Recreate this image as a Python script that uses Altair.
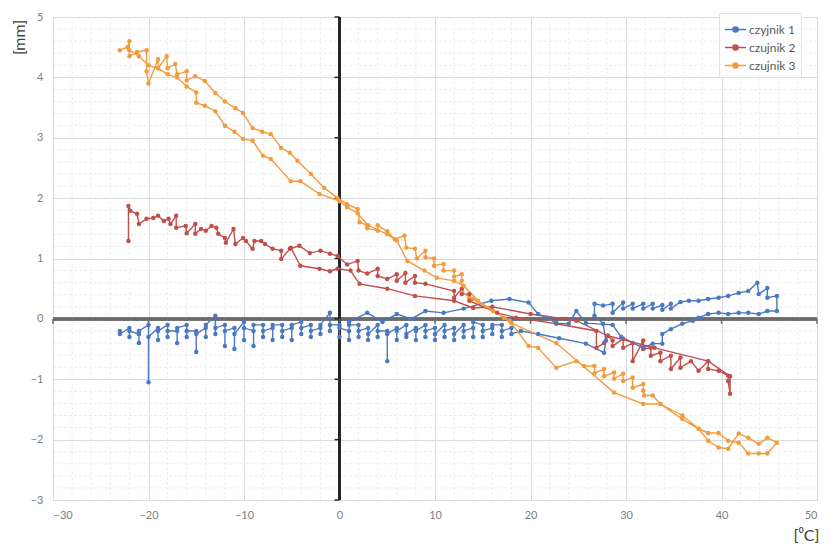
import altair as alt
import pandas as pd

# ---------------- data ----------------
series_names = ["czyjnik 1", "czujnik 2", "czujnik 3"]
series_colors = ["#4A78C2", "#C0504D", "#F39C3E"]

blue_x = [-23, -23, -22, -22, -22, -21, -21, -21, -20, -20, -20, -19, -19, -19, -18, -18, -18, -17, -17, -17,
          -16, -16, -16, -15, -15, -15, -14, -14, -14, -13, -13, -13, -12, -12, -12, -11, -11, -11, -10, -10,
          -10, -9, -9, -9, -8, -8, -8, -7, -7, -7, -6, -6, -6, -5, -5, -5, -4, -4, -4, -3,
          -3, -3, -2, -2, -2, -1, -1, -1, 0, 0, 0, 1, 1, 1, 2, 2, 2, 3, 3, 3,
          4, 4, 4, 5, 5, 5, 6, 6, 6, 7, 7, 7, 8, 8, 8, 9, 9, 9, 10, 10,
          10, 11, 11, 11, 12, 12, 12, 13, 13, 13, 14, 14, 14, 15, 15, 15, 16, 16, 16, 17,
          17, 17, 18, 18, 19,
          20.8, 23, 25.8, 27.7, 27.9, 27.6, 26.7, 26.7, 27.6, 28.6, 28.6, 29.7, 29.7, 30.7, 30.7,
          31.8, 31.8, 32.8, 32.8, 33.8, 33.8, 34.7, 34.7, 35.7, 36.6, 37.6, 38.6, 39.7, 40.7, 41.8, 42.8, 43.75, 43.9, 44.8, 44.8,
          45.8, 45.8, 44.8, 43.9, 42.8, 41.8, 40.7, 39.7, 38.6, 37.6, 37, 35.9, 34.7, 33.8, 33.8, 32.8, 31.8, 29.5, 28.6, 25.8,
          24.8, 24, 22.7, 21.7, 20.8, 19.8, 17.8, 15.9, 13, 10.9, 9, 7.5, 6, 4.5, 2.9, 1]
blue_y = [-0.2, -0.25, -0.15, -0.3, -0.2, -0.25, -0.4, -0.2, -0.1, -1.05, -0.3, -0.15, -0.35, -0.2, -0.1, -0.3, -0.2, -0.2, -0.4, -0.15,
          -0.1, -0.3, -0.2, -0.2, -0.55, -0.25, -0.15, -0.3, -0.1, 0.05, -0.25, -0.15, -0.1, -0.45, -0.2, -0.15, -0.5, -0.25, -0.05, -0.35,
          -0.15, -0.2, -0.45, -0.1, -0.1, -0.3, -0.2, -0.15, -0.35, -0.1, -0.1, -0.3, -0.2, -0.15, -0.35, -0.1, -0.05, -0.25, -0.15, -0.1,
          -0.3, -0.2, -0.15, -0.25, -0.1, 0.1, -0.2, -0.1, -0.1, -0.3, -0.15, -0.2, -0.35, -0.1, -0.1, -0.3, -0.2, -0.15, -0.35, -0.25,
          -0.1, -0.3, -0.2, -0.2, -0.7, -0.25, -0.15, -0.35, -0.2, -0.1, -0.3, -0.25, -0.15, -0.35, -0.2, -0.1, -0.3, -0.2, -0.15, -0.35,
          -0.25, -0.1, -0.3, -0.2, -0.15, -0.35, -0.25, -0.1, -0.3, -0.2, -0.15, -0.3, -0.05, -0.1, -0.3, -0.2, -0.15, -0.25, -0.1, -0.1,
          -0.3, -0.2, -0.15, -0.25, -0.2,
          -0.25, -0.32, -0.41, -0.56, -0.36, -0.08, 0.05, 0.25, 0.22, 0.25, 0.1, 0.27, 0.17, 0.25, 0.17,
          0.25, 0.17, 0.25, 0.17, 0.23, 0.15, 0.25, 0.17, 0.28, 0.3, 0.3, 0.33, 0.35, 0.38, 0.43, 0.46, 0.6, 0.41, 0.51, 0.35,
          0.38, 0.13, 0.13, 0.08, 0.1, 0.1, 0.08, 0.1, 0.08, 0.02, -0.03, -0.08, -0.17, -0.25, -0.41, -0.41, -0.48, -0.3, -0.1, -0.07,
          0.13, -0.08, -0.07, 0.02, 0.08, 0.27, 0.33, 0.3, 0.17, 0.1, 0.13, 0.0, 0.08, -0.05, 0.1, -0.05]

red_x = [-22.1, -22.1, -21.9, -21.2, -21, -20.2, -19.5, -19, -18.4, -17.9, -17.7, -17.1, -17.1, -16.1, -16, -15.1, -15.1, -14.5, -14, -13.4,
         -12.9, -12.7, -12, -11.9, -11.1, -10.9, -10.1, -9.8, -9.1, -8.9, -8.2, -7.8, -7, -6.1, -6.1, -5.2, -4.2, -3.1, -2, -1,
         -0.2, 0.8, 1.9, 2, 2.9, 4, 4, 5, 6, 6, 6.9, 6.9, 7.9, 7.9, 9, 12, 12, 12.8, 12.8, 13.6,
         13.6, 16.5, 18.5, 22.7, 26.9, 26.9, 27.7, 28.1, 28.6, 28.6, 29.7, 29.7, 30.7, 30.7, 31.8, 31.8, 32.6, 32.6, 33.6, 33.6,
         34.7, 34.7, 35.7, 35.7, 36.8, 37.6, 38.6, 38.6, 39.7, 40.7, 40.7, 40.9, 40.9, 38.6, 33, 28.1, 24.8, 20, 16, 14,
         12, 7.9, 5, 2.1, 1.15, -0.2, -1, -2.1, -4.1, -5.1]
red_y = [1.29, 1.87, 1.79, 1.74, 1.57, 1.66, 1.67, 1.71, 1.62, 1.66, 1.57, 1.71, 1.51, 1.54, 1.42, 1.57, 1.41, 1.49, 1.46, 1.54,
         1.51, 1.41, 1.34, 1.26, 1.49, 1.24, 1.34, 1.29, 1.16, 1.29, 1.29, 1.24, 1.16, 1.13, 0.99, 1.16, 1.21, 1.09, 1.13, 1.08,
         1.04, 0.9, 0.96, 0.8, 0.75, 0.83, 0.71, 0.66, 0.74, 0.63, 0.76, 0.6, 0.71, 0.6, 0.58, 0.46, 0.35, 0.5, 0.41, 0.41,
         0.3, 0.1, 0.02, -0.08, -0.2, -0.48, -0.4, -0.28, -0.36, -0.45, -0.33, -0.48, -0.4, -0.7, -0.36, -0.5, -0.48, -0.61, -0.56, -0.7,
         -0.61, -0.83, -0.64, -0.81, -0.7, -0.86, -0.7, -0.83, -0.86, -0.94, -1.03, -1.24, -0.95, -0.7, -0.48, -0.28, -0.03, 0.08, 0.2, 0.18,
         0.3, 0.38, 0.5, 0.58, 0.8, 0.83, 0.79, 0.83, 0.88, 1.18]

orange_x = [-23, -22.2, -22, -22, -21.2, -20.2, -20.2, -20, -19, -19, -18.1, -18, -17.2, -17, -16, -16, -15.1, -14.1, -13, -12,
            -10.9, -10.1, -9.1, -8.1, -7.2, -6.1, -5.2, -4.4, -3, -1.6, -0.2, 0.8, 1.9, 2.1, 2.9, 2.9, 4, 4, 5, 5.8,
            6.8, 7, 7.9, 8.1, 9, 9, 9.9, 9.9, 10.9, 10.9, 12, 12, 12.8, 12.8, 12.8, 13.6, 14, 16.1, 17.8, 19.8,
            20.8, 22.7, 24.8, 25.6, 26.7, 26.7, 27.7, 27.7, 28.75, 28.75, 29.7, 29.7, 30.7, 30.7, 31.8, 31.8, 31.9, 32.8, 33.6, 35.9,
            37.6, 38.6, 39.7, 40.7, 41.8, 42.8, 43.9, 44.8, 45.8, 44.8, 43.9, 42.8, 41.8, 40.7, 39.7, 38.6, 37.6, 35.9, 33.6, 31.8,
            28.75, 22.7, 18, 17.2, 14.5, 13, 12, 10.2, 8.9, 7.1, 6, 5, 3, 1.9, 0.8, 0, -2.1, -4.1, -5.1, -7.2,
            -8, -9.1, -10.1, -11, -12, -13, -14.1, -15, -15, -16, -17, -18, -19, -20, -21, -22]
orange_y = [4.45, 4.5, 4.6, 4.35, 4.42, 4.45, 4.1, 3.9, 4.3, 4.15, 4.35, 4.15, 4.22, 4.05, 4.1, 3.95, 4.02, 3.94, 3.74, 3.6,
            3.49, 3.41, 3.16, 3.1, 3.06, 2.83, 2.75, 2.62, 2.4, 2.17, 2.0, 1.9, 1.82, 1.6, 1.55, 1.5, 1.46, 1.55, 1.45, 1.32,
            1.38, 1.18, 1.16, 1.0, 1.13, 1.02, 1.0, 0.88, 0.91, 0.8, 0.8, 0.7, 0.74, 0.63, 0.46, 0.35, 0.33, 0.13, -0.03, -0.45,
            -0.48, -0.81, -0.7, -0.78, -0.78, -0.9, -0.83, -0.95, -0.89, -0.99, -0.91, -1.03, -0.97, -1.14, -1.08, -1.19, -1.27, -1.27, -1.41, -1.6,
            -1.82, -2.02, -2.13, -2.15, -1.9, -1.97, -2.07, -1.97, -2.05, -2.23, -2.23, -2.23, -2.05, -2.02, -1.89, -1.89, -1.82, -1.66, -1.41, -1.41,
            -1.22, -0.4, -0.07, 0.02, 0.3, 0.55, 0.63, 0.68, 0.8, 0.96, 1.3, 1.4, 1.55, 1.75, 1.85, 1.95, 2.07, 2.28, 2.28, 2.65,
            2.7, 2.95, 2.98, 3.1, 3.2, 3.44, 3.53, 3.58, 3.75, 3.85, 4.0, 4.05, 4.15, 4.2, 4.35, 4.45]

assert len(blue_x) == len(blue_y)
assert len(red_x) == len(red_y)
assert len(orange_x) == len(orange_y)

x_ticks = [-30, -20, -10, 0, 10, 20, 30, 40, 50]
y_ticks = [-3, -2, -1, 0, 1, 2, 3, 4, 5]
x_minor = [-28, -26, -24, -22, -18, -16, -14, -12, -8, -6, -4, -2, 2, 4, 6, 8, 12, 14, 16, 18,
           22, 24, 26, 28, 32, 34, 36, 38, 42, 44, 46, 48]
y_minor = [-2.8, -2.6, -2.4, -2.2, -1.8, -1.6, -1.4, -1.2, -0.8, -0.6, -0.4, -0.2, 0.2, 0.4, 0.6, 0.8,
           1.2, 1.4, 1.6, 1.8, 2.2, 2.4, 2.6, 2.8, 3.2, 3.4, 3.6, 3.8, 4.2, 4.4, 4.6, 4.8]
x_title = "[⁰C]"
y_title = "[mm]"

# ---------------- tables ----------------
rows = []
for name, xs, ys in zip(series_names, [blue_x, red_x, orange_x], [blue_y, red_y, orange_y]):
    for i, (xv, yv) in enumerate(zip(xs, ys)):
        rows.append({"seria": name, "t": xv, "d": yv, "idx": i})
df = pd.DataFrame(rows)

xmin_df = pd.DataFrame({"xm": x_minor})
ymin_df = pd.DataFrame({"ym": y_minor})
xt_df = pd.DataFrame({"xt": x_ticks})
yt_df = pd.DataFrame({"yt": y_ticks})

FONT = "Lato"
xscale = alt.Scale(domain=[-30, 50], nice=False, zero=False)
yscale = alt.Scale(domain=[-3, 5], nice=False, zero=False)

X_AX = alt.Axis(values=x_ticks, grid=True, gridColor="#DADADA", gridWidth=1, domain=False, ticks=False,
                labelColor="#7F7F7F", labelFontSize=11, labelFont=FONT, labelPadding=9,
                titleFont=FONT, titleFontSize=16, titleFontWeight="normal", titleColor="#404040",
                titleX=753, titleY=35, titleAlign="center", titleBaseline="middle")
Y_AX = alt.Axis(values=y_ticks, grid=True, gridColor="#DADADA", gridWidth=1, domain=False, ticks=False,
                labelColor="#7F7F7F", labelFontSize=11, labelFont=FONT, labelPadding=10,
                titleFont=FONT, titleFontSize=16, titleFontWeight="normal", titleColor="#404040",
                titleAngle=270, titleX=-34, titleY=20, titleAlign="center", titleBaseline="middle")

minor_x = alt.Chart(xmin_df).mark_rule(color="#EDEDED", strokeWidth=1, strokeDash=[3, 2]).encode(
    x=alt.X("xm:Q", scale=xscale, axis=X_AX, title=x_title))
minor_y = alt.Chart(ymin_df).mark_rule(color="#EDEDED", strokeWidth=1, strokeDash=[3, 2]).encode(
    y=alt.Y("ym:Q", scale=yscale, axis=Y_AX, title=y_title))

h_axis = alt.Chart(xt_df).mark_rule(color="#6B6B6B", strokeWidth=2.5).encode(
    y=alt.datum(0, scale=yscale, axis=Y_AX, title=y_title),
    x=alt.datum(-30, scale=xscale, axis=X_AX, title=x_title), x2=alt.datum(50))
v_axis = alt.Chart(yt_df).mark_rule(color="#262626", strokeWidth=2).encode(
    x=alt.datum(0, scale=xscale, axis=X_AX, title=x_title),
    y=alt.datum(-3, scale=yscale, axis=Y_AX, title=y_title), y2=alt.datum(5))
v_ticks = alt.Chart(yt_df).mark_rule(color="#262626", strokeWidth=1.5, x2Offset=-5).encode(
    x=alt.datum(0, scale=xscale, axis=X_AX, title=x_title), x2=alt.datum(0),
    y=alt.Y("yt:Q", scale=yscale, axis=Y_AX, title=y_title))
h_ticks = alt.Chart(xt_df).mark_rule(color="#6B6B6B", strokeWidth=1.5, y2Offset=5).encode(
    y=alt.datum(0, scale=yscale, axis=Y_AX, title=y_title), y2=alt.datum(0),
    x=alt.X("xt:Q", scale=xscale, axis=X_AX, title=x_title))

legend_symbol = "M-1,0H1M-0.24,0A0.24,0.24,0,1,1,0.24,0A0.24,0.24,0,1,1,-0.24,0Z"

lines = alt.Chart(df).mark_line(
    strokeWidth=1.4,
    point=alt.OverlayMarkDef(size=20, filled=True, opacity=1),
).encode(
    x=alt.X("t:Q", scale=xscale, axis=X_AX, title=x_title),
    y=alt.Y("d:Q", scale=yscale, axis=Y_AX, title=y_title),
    color=alt.Color("seria:N", scale=alt.Scale(domain=series_names, range=series_colors),
                    legend=alt.Legend(title=None, orient="none", legendX=666, legendY=-4,
                                      fillColor="white", strokeColor="#E3E3E3", padding=5,
                                      labelFont=FONT, labelFontSize=12, labelColor="#595959",
                                      symbolType=legend_symbol, symbolSize=441, symbolStrokeWidth=1.6,
                                      rowPadding=-1, labelOffset=2)),
    order=alt.Order("idx:Q"),
)

chart = alt.layer(minor_x, minor_y, h_axis, v_axis, v_ticks, h_ticks, lines).properties(
    width=764, height=483,
    autosize=alt.AutoSizeParams(type="none"),
    padding={"left": 45, "top": 9, "right": 5, "bottom": 48},
).configure_view(stroke="#DADADA").configure(background="white")

chart.save("out.html", embed_options={"renderer": "svg", "actions": False})
